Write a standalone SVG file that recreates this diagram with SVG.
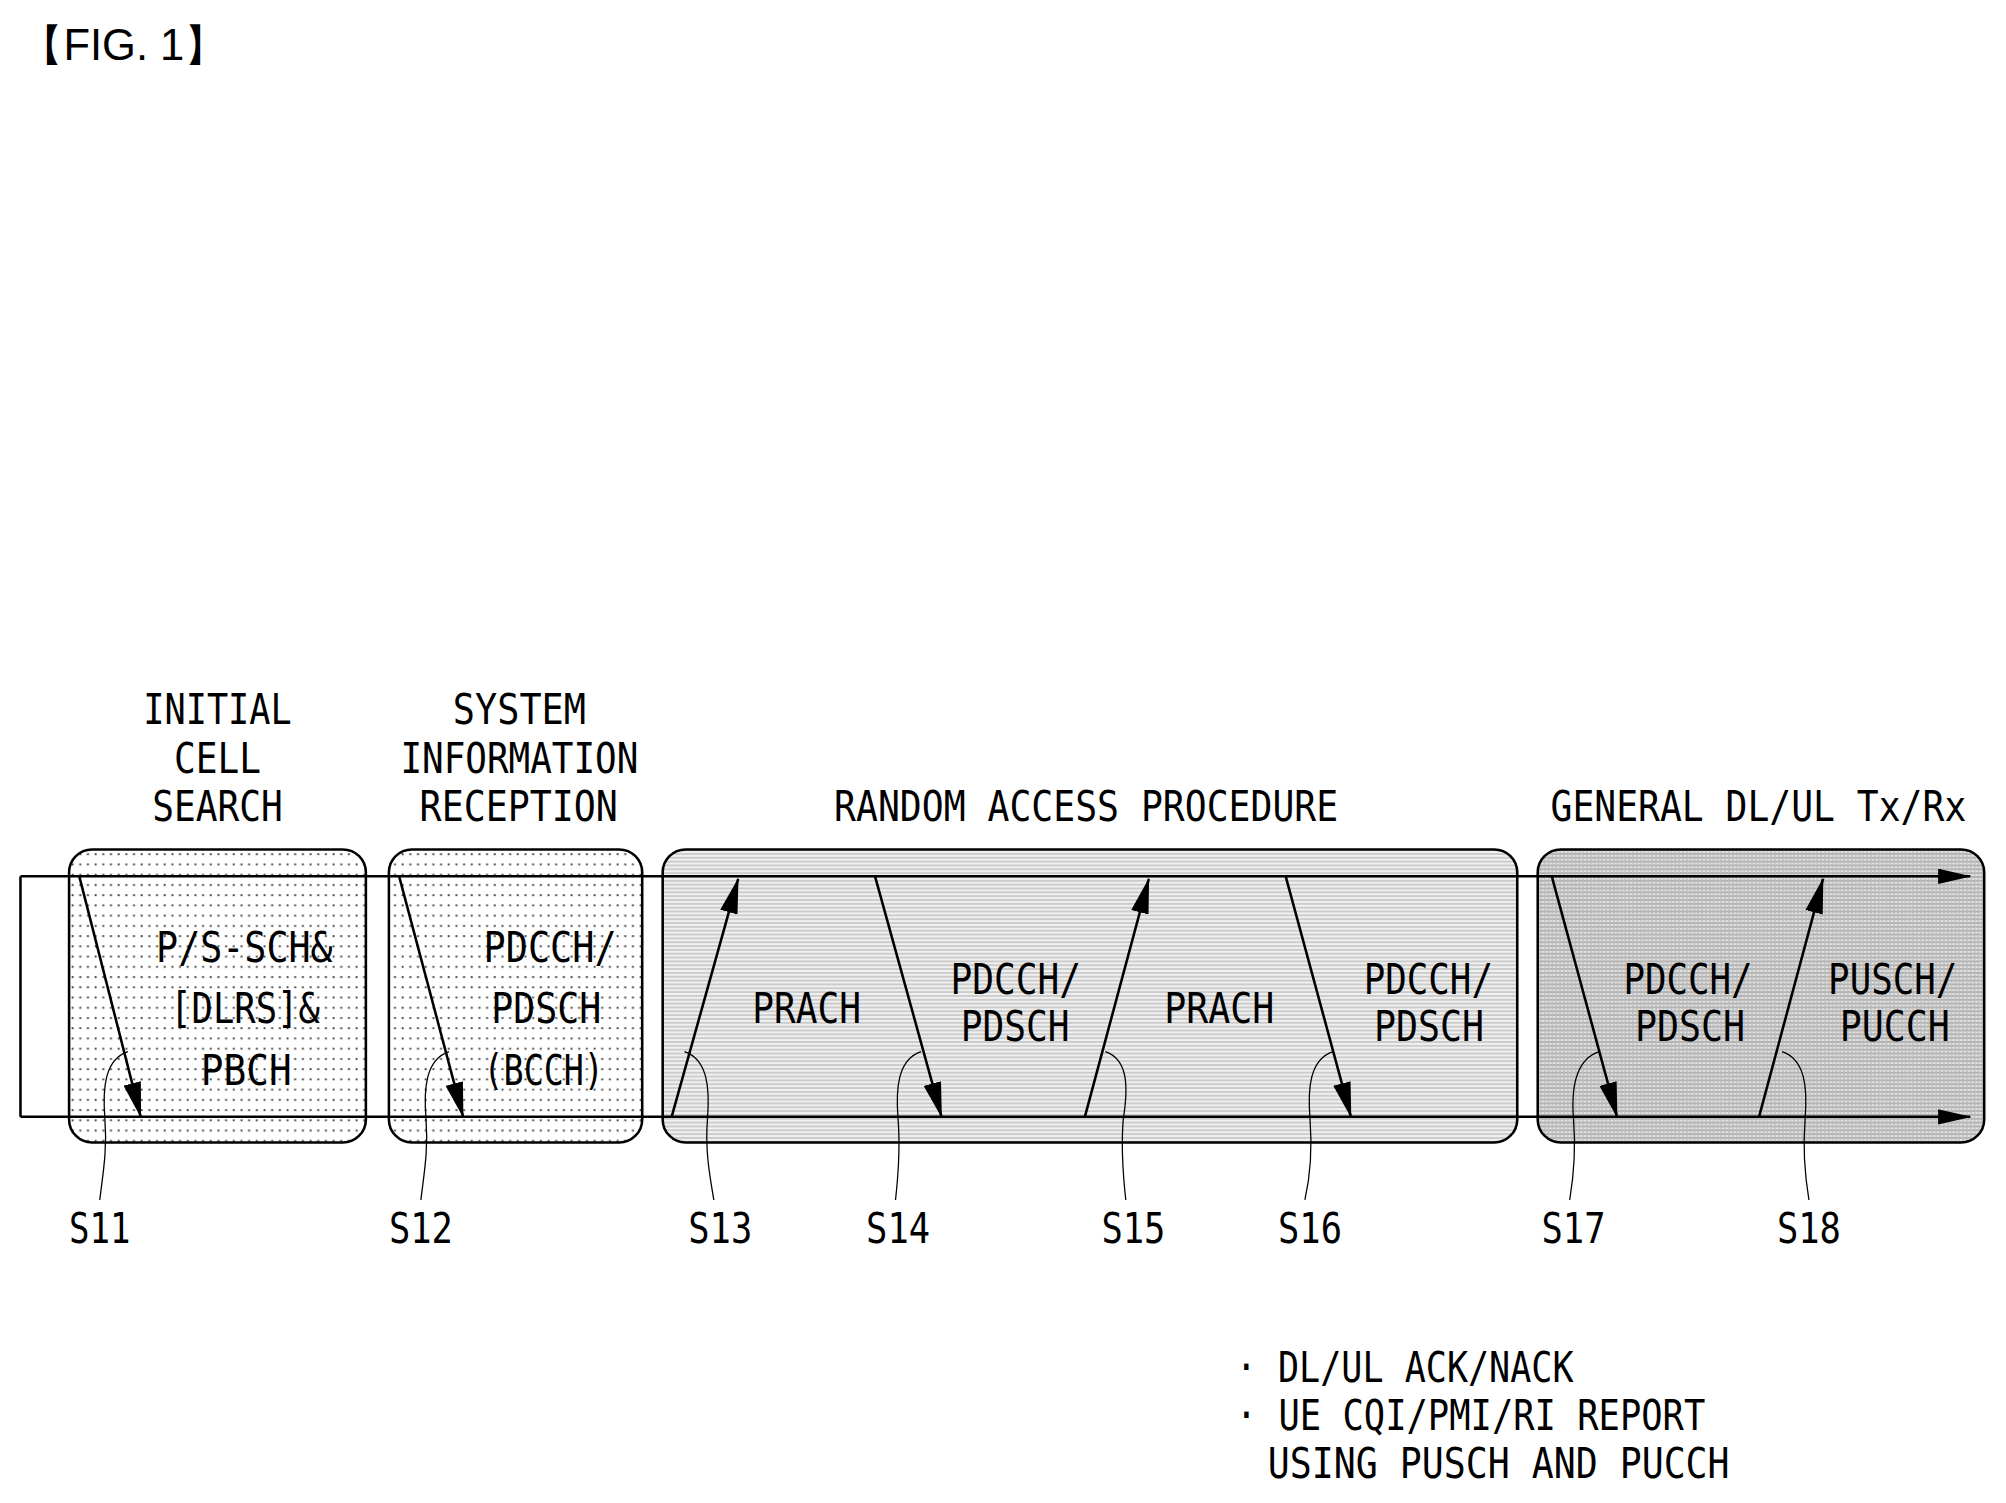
<svg xmlns="http://www.w3.org/2000/svg" width="2006" height="1503" viewBox="0 0 2006 1503">
<style>
text{font-family:"DejaVu Sans Mono","Liberation Mono",monospace;font-size:34px;fill:#000}
.box{stroke:#000;stroke-width:2}
.ln{stroke:#000;stroke-width:2;fill:none}
.ld{stroke:#000;stroke-width:1;fill:none}
</style>
<defs>
<pattern id="dots" width="6" height="8" patternUnits="userSpaceOnUse"><rect width="6" height="8" fill="#fff"/><rect x="2" y="3" width="1.5" height="1.5" fill="#444"/></pattern>
<pattern id="hl" width="4" height="3" patternUnits="userSpaceOnUse"><rect width="4" height="3" fill="#f0f0f0"/><rect y="1" width="4" height="1" fill="#bbb"/></pattern>
<pattern id="hd" width="3" height="3" patternUnits="userSpaceOnUse"><rect width="3" height="3" fill="#e4e4e4"/><rect y="1" width="3" height="1" fill="#999"/><rect x="1" width="1" height="3" fill="#bbb"/></pattern>
<marker id="ah" markerWidth="28" markerHeight="14" refX="27" refY="7" orient="auto" markerUnits="userSpaceOnUse"><path d="M0,0L28,7L0,14z" fill="#000"/></marker>
<marker id="ah2" markerWidth="26" markerHeight="12" refX="25" refY="6" orient="auto" markerUnits="userSpaceOnUse"><path d="M0,0L26,6L0,12z" fill="#000"/></marker>
</defs>
<rect width="2006" height="1503" fill="#fff"/>
<g transform="scale(1.2793)">
<text x="16" y="47" style="font-family:'Liberation Sans',sans-serif;font-size:34px">【FIG. 1】</text>
<g id="n1"><rect class="box" x="54" y="664" width="232" height="229" rx="18" fill="url(#dots)"/>
<text x="122" y="752" textLength="138" lengthAdjust="spacingAndGlyphs">P/S-SCH&amp;</text>
<text x="133" y="800" textLength="117" lengthAdjust="spacingAndGlyphs">[DLRS]&amp;</text>
<text x="157" y="848" textLength="71" lengthAdjust="spacingAndGlyphs">PBCH</text></g>
<g id="n2"><rect class="box" x="304" y="664" width="198" height="229" rx="18" fill="url(#dots)"/>
<text x="378" y="752" textLength="104" lengthAdjust="spacingAndGlyphs">PDCCH/</text>
<text x="384" y="800" textLength="86" lengthAdjust="spacingAndGlyphs">PDSCH</text>
<text x="378" y="848" textLength="94" lengthAdjust="spacingAndGlyphs">(BCCH)</text></g>
<g id="n3"><rect class="box" x="518" y="664" width="668" height="229" rx="18" fill="url(#hl)"/>
<text x="588" y="800" textLength="85" lengthAdjust="spacingAndGlyphs">PRACH</text>
<text x="743" y="777" textLength="102" lengthAdjust="spacingAndGlyphs">PDCCH/</text>
<text x="751" y="814" textLength="85" lengthAdjust="spacingAndGlyphs">PDSCH</text>
<text x="910" y="800" textLength="86" lengthAdjust="spacingAndGlyphs">PRACH</text>
<text x="1066" y="777" textLength="101" lengthAdjust="spacingAndGlyphs">PDCCH/</text>
<text x="1074" y="814" textLength="86" lengthAdjust="spacingAndGlyphs">PDSCH</text></g>
<g id="n4"><rect class="box" x="1202" y="664" width="349" height="229" rx="18" fill="url(#hd)"/>
<text x="1269" y="777" textLength="101" lengthAdjust="spacingAndGlyphs">PDCCH/</text>
<text x="1278" y="814" textLength="86" lengthAdjust="spacingAndGlyphs">PDSCH</text>
<text x="1429" y="777" textLength="101" lengthAdjust="spacingAndGlyphs">PUSCH/</text>
<text x="1438" y="814" textLength="86" lengthAdjust="spacingAndGlyphs">PUCCH</text></g>
<g id="headers">
<text x="112" y="566" textLength="116" lengthAdjust="spacingAndGlyphs">INITIAL</text>
<text x="136" y="604" textLength="68" lengthAdjust="spacingAndGlyphs">CELL</text>
<text x="119" y="642" textLength="102" lengthAdjust="spacingAndGlyphs">SEARCH</text>
<text x="354" y="566" textLength="104" lengthAdjust="spacingAndGlyphs">SYSTEM</text>
<text x="313" y="604" textLength="186" lengthAdjust="spacingAndGlyphs">INFORMATION</text>
<text x="328" y="642" textLength="155" lengthAdjust="spacingAndGlyphs">RECEPTION</text>
<text x="652" y="642" textLength="394" lengthAdjust="spacingAndGlyphs">RANDOM ACCESS PROCEDURE</text>
<text x="1212" y="642" textLength="325" lengthAdjust="spacingAndGlyphs">GENERAL DL/UL Tx/Rx</text>
</g>
<g id="connectors">
<path class="ln" d="M16,685H1540" marker-end="url(#ah2)"/>
<path class="ln" d="M16,873H1540" marker-end="url(#ah2)"/>
<path class="ln" d="M16,685V873"/>
<path class="ln" d="M62,685L110,873" marker-end="url(#ah)"/>
<path class="ln" d="M312,685L362,873" marker-end="url(#ah)"/>
<path class="ln" d="M525,873L577,687" marker-end="url(#ah)"/>
<path class="ln" d="M684,685L736,873" marker-end="url(#ah)"/>
<path class="ln" d="M848,873L898,687" marker-end="url(#ah)"/>
<path class="ln" d="M1005,685L1056,873" marker-end="url(#ah)"/>
<path class="ln" d="M1213,685L1264,873" marker-end="url(#ah)"/>
<path class="ln" d="M1375,873L1425,687" marker-end="url(#ah)"/>
<path class="ld" d="M100,822C82,828 80,850 82,875C84,900 80,920 78,938"/>
<path class="ld" d="M351,822C333,828 331,850 333,875C335,900 331,920 329,938"/>
<path class="ld" d="M535,822C553,828 555,850 553,875C551,900 555,920 558,938"/>
<path class="ld" d="M720,822C702,828 700,850 702,875C704,900 702,920 700,938"/>
<path class="ld" d="M864,822C882,828 882,850 878,875C876,900 878,920 880,938"/>
<path class="ld" d="M1042,822C1024,828 1022,850 1024,875C1026,900 1024,920 1020,938"/>
<path class="ld" d="M1250,822C1232,828 1228,850 1230,875C1232,900 1230,920 1227,938"/>
<path class="ld" d="M1393,822C1411,828 1413,850 1411,875C1409,900 1411,920 1414,938"/>
</g>
<g id="labels">
<text x="54" y="972" textLength="48" lengthAdjust="spacingAndGlyphs">S11</text>
<text x="304" y="972" textLength="50" lengthAdjust="spacingAndGlyphs">S12</text>
<text x="538" y="972" textLength="50" lengthAdjust="spacingAndGlyphs">S13</text>
<text x="677" y="972" textLength="50" lengthAdjust="spacingAndGlyphs">S14</text>
<text x="861" y="972" textLength="50" lengthAdjust="spacingAndGlyphs">S15</text>
<text x="999" y="972" textLength="50" lengthAdjust="spacingAndGlyphs">S16</text>
<text x="1205" y="972" textLength="50" lengthAdjust="spacingAndGlyphs">S17</text>
<text x="1389" y="972" textLength="50" lengthAdjust="spacingAndGlyphs">S18</text>
<text x="966" y="1080" textLength="264" lengthAdjust="spacingAndGlyphs">· DL/UL ACK/NACK</text>
<text x="966" y="1118" textLength="367" lengthAdjust="spacingAndGlyphs">· UE CQI/PMI/RI REPORT</text>
<text x="991" y="1155" textLength="361" lengthAdjust="spacingAndGlyphs">USING PUSCH AND PUCCH</text>
</g>
</g>
</svg>
